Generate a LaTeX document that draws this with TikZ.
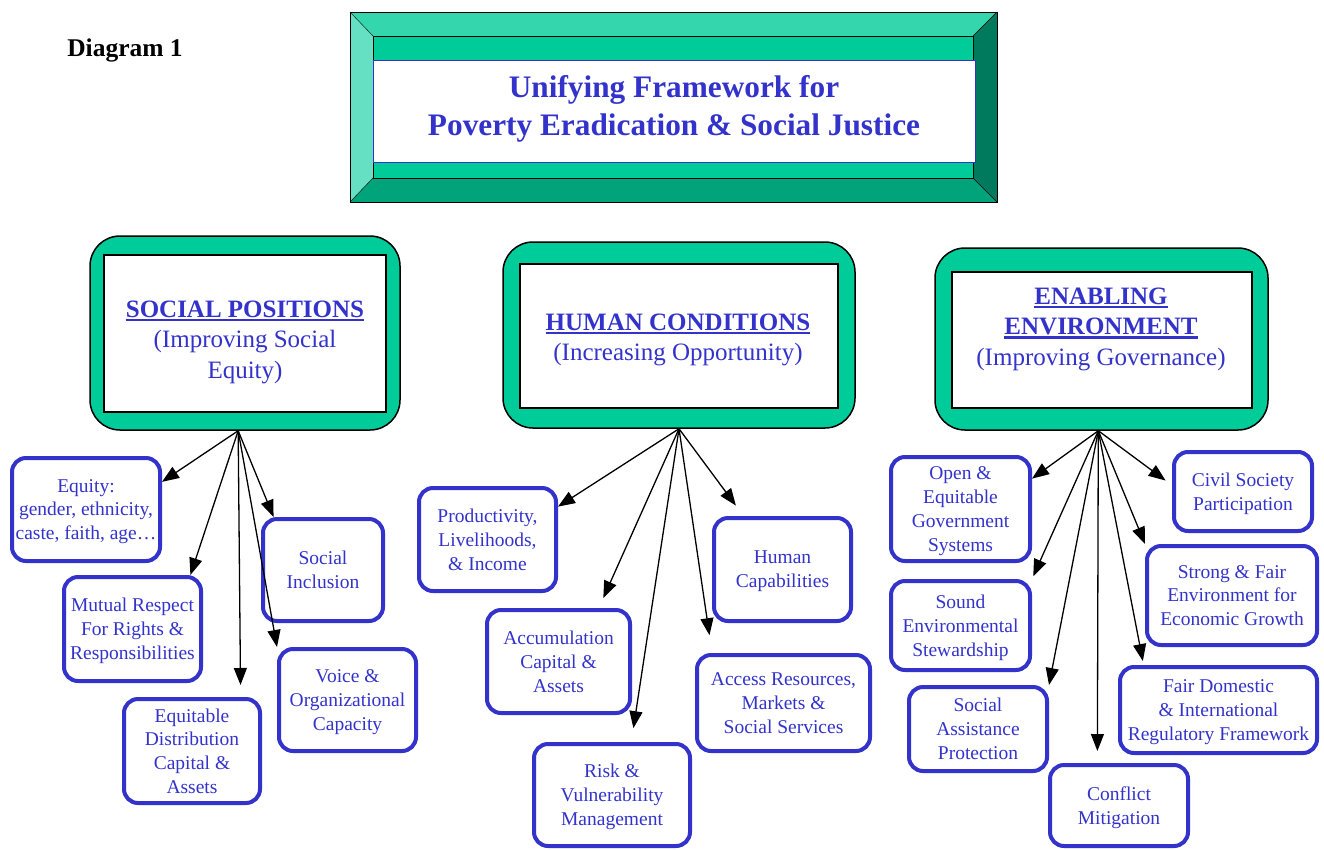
\documentclass[tikz,border=0pt]{standalone}
\usepackage{fontspec}
\setmainfont{Liberation Serif}
\usetikzlibrary{arrows.meta,positioning}
\definecolor{boxblue}{HTML}{3333CC}
\definecolor{framegreen}{HTML}{00CC99}
\definecolor{beveltop}{HTML}{33D6AD}
\definecolor{bevelleft}{HTML}{66E0C2}
\definecolor{bevelright}{HTML}{007A5C}
\definecolor{bevelbottom}{HTML}{00A37A}
\newcommand{\hdul}[1]{\setbox0=\hbox{#1}\rlap{\rule[-4pt]{\wd0}{2.5pt}}\box0}

\begin{document}
\begin{tikzpicture}[x=1pt,y=-1pt,
  item/.style={draw=boxblue,line width=4pt,rounded corners=14pt,fill=white,text=boxblue,align=center,inner sep=0pt,text depth=0pt,font=\fontsize{19.5}{23.8}\selectfont},
  headframe/.style={draw=black,line width=1.5pt,fill=framegreen,rounded corners=30pt},
  headbox/.style={draw=black,line width=2pt,fill=white},
  headtext/.style={text=boxblue,align=center,font=\fontsize{25}{30.5}\selectfont},
  link/.style={-{Triangle[length=17pt,width=13pt]},line width=1.3pt}]
\useasboundingbox (0,0) rectangle (1324,849);
\fill[beveltop] (350,12) -- (997,12) -- (973,36) -- (373,36) -- cycle;
\fill[bevelleft] (350,12) -- (373,36) -- (373,178) -- (350,202) -- cycle;
\fill[bevelright] (997,12) -- (997,202) -- (973,178) -- (973,36) -- cycle;
\fill[bevelbottom] (350,202) -- (997,202) -- (973,178) -- (373,178) -- cycle;
\fill[framegreen] (373,36) rectangle (973,178);
\draw[line width=1pt] (350,12) rectangle (997,202);
\draw (350,12) -- (373,36) (997,12) -- (973,36) (350,202) -- (373,178) (997,202) -- (973,178);
\draw (373,36) rectangle (973,178);
\draw[boxblue,fill=white] (373,60) rectangle (975,162);
\node[text=boxblue,align=center,font=\bfseries\fontsize{31.3}{38}\selectfont] (title) at (674,109) {Unifying Framework for\\Poverty Eradication \& Social Justice};
\node[font=\bfseries\fontsize{25.5}{30}\selectfont] (diagram) at (125,50) {Diagram 1};

\node[headframe,minimum width=310,minimum height=194] (socialframe) at (245,333) {};
\node[headbox,minimum width=282,minimum height=157] (socialbox) at (245,333.5) {};
\node[headtext] (social) at (245,342) {\textbf{\hdul{SOCIAL POSITIONS}}\\(Improving Social\\Equity)};
\node[headframe,minimum width=352,minimum height=186] (midframe) at (679,335) {};
\node[headbox,minimum width=318,minimum height=144] (midbox) at (679,336) {};
\node[headtext] (human) at (678,340) {\textbf{\hdul{HUMAN CONDITIONS}}\\(Increasing Opportunity)};
\node[headframe,minimum width=333,minimum height=182] (envframe) at (1101.5,339) {};
\node[headbox,minimum width=300,minimum height=136] (envbox) at (1102,340) {};
\node[headtext] (enabling) at (1101,329) {\textbf{\hdul{ENABLING}}\\\textbf{\hdul{ENVIRONMENT}}\\(Improving Governance)};

\node[item,minimum width=148,minimum height=103] (equity) at (86,509.5) {Equity:\\gender, ethnicity,\\caste, faith, age…};
\node[item,minimum width=137,minimum height=104] (mutual) at (132.5,629) {Mutual Respect\\For Rights \&\\Responsibilities};
\node[item,minimum width=136,minimum height=104] (equit) at (192,751) {Equitable\\Distribution\\Capital \&\\Assets};
\node[item,minimum width=120,minimum height=102] (incl) at (323,570) {Social\\Inclusion};
\node[item,minimum width=137,minimum height=102] (voice) at (347.5,700) {Voice \&\\Organizational\\Capacity};

\node[item,minimum width=137,minimum height=103] (prod) at (487.5,539.5) {Productivity,\\Livelihoods,\\\& Income};
\node[item,minimum width=143,minimum height=103] (accum) at (558.5,661.5) {Accumulation\\Capital \&\\Assets};
\node[item,minimum width=156,minimum height=102] (risk) at (612,795) {Risk \&\\Vulnerability\\Management};
\node[item,minimum width=137,minimum height=103] (capab) at (782.5,569.5) {Human\\Capabilities};
\node[item,minimum width=173,minimum height=96] (access) at (783.5,703) {Access Resources,\\Markets \&\\Social Services};

\node[item,minimum width=139,minimum height=104] (open) at (960.5,509) {Open \&\\Equitable\\Government\\Systems};
\node[item,minimum width=139,minimum height=89] (sound) at (960.5,625.5) {Sound\\Environmental\\Stewardship};
\node[item,minimum width=138,minimum height=84] (assist) at (978,729) {Social\\Assistance\\Protection};
\node[item,minimum width=138,minimum height=81] (conflict) at (1119,805.5) {Conflict\\Mitigation};
\node[item,minimum width=138,minimum height=79] (civil) at (1243,491.5) {Civil Society\\Participation};
\node[item,minimum width=170,minimum height=99] (strong) at (1232,595.5) {Strong \& Fair\\Environment for\\Economic Growth};
\node[item,minimum width=197,minimum height=86] (fairdom) at (1218.5,710) {Fair Domestic\\\& International\\Regulatory Framework};

\draw[link] (socialframe.266) -- (equity.20);
\draw[link] (socialframe.266) -- (mutual.43);
\draw[link,shorten >=12pt] (socialframe.266) -- (equit.48);
\draw[link] (socialframe.266) -- (incl.133);
\draw[link] (socialframe.266) -- (voice.north west);

\draw[link] (midframe.south) -- (prod.25);
\draw[link,shorten >=11pt] (midframe.south) -- (accum.53);
\draw[link,shorten >=14pt] (midframe.south) -- (risk.70);
\draw[link,shorten >=13pt] (midframe.south) -- (capab.126);
\draw[link,shorten >=18pt] (midframe.south) -- (access.145);

\draw[link] (envframe.268) -- (open.23);
\draw[link,shorten >=3pt] (envframe.268) -- (sound.north east);
\draw[link] (envframe.268) -- (assist.north east);
\draw[link,shorten >=12pt] (envframe.268) -- (conflict.117);
\draw[link,shorten >=8pt] (envframe.268) -- (civil.175);
\draw[link] (envframe.268) -- (strong.north west);
\draw[link,shorten >=4pt] (envframe.268) -- (fairdom.149);
\end{tikzpicture}
\end{document}
